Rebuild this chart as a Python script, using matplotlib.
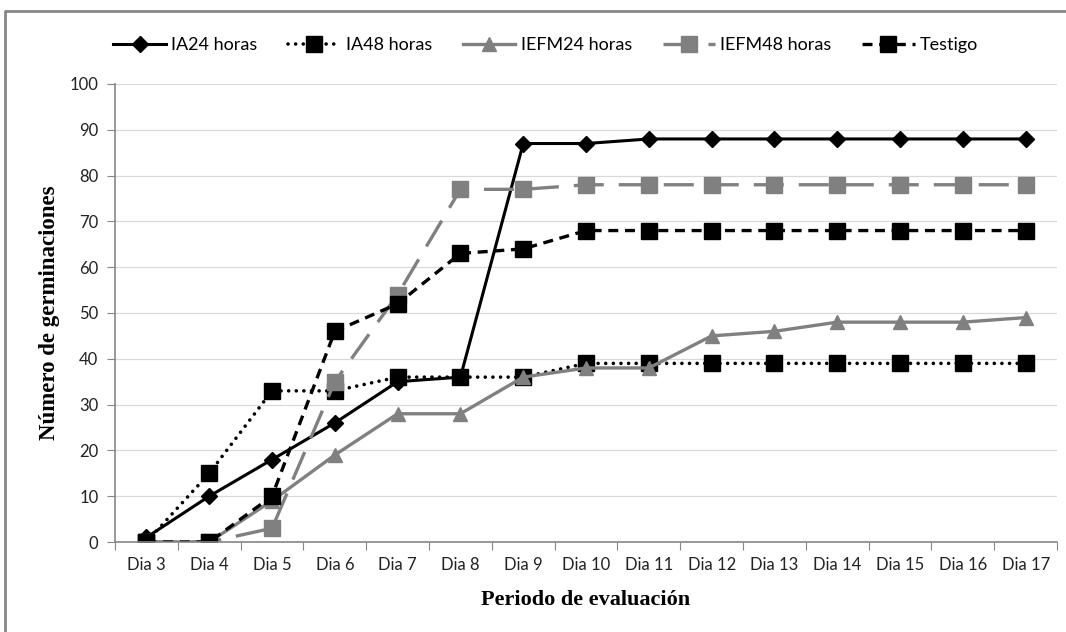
import numpy as np
import matplotlib
matplotlib.use("Agg")
import matplotlib.pyplot as plt
from matplotlib.lines import Line2D
from matplotlib.ticker import FixedLocator, NullFormatter

# data
dias = ["Dia 3", "Dia 4", "Dia 5", "Dia 6", "Dia 7", "Dia 8", "Dia 9", "Dia 10",
        "Dia 11", "Dia 12", "Dia 13", "Dia 14", "Dia 15", "Dia 16", "Dia 17"]
ia24 = [1, 10, 18, 26, 35, 36, 87, 87, 88, 88, 88, 88, 88, 88, 88]
ia48 = [0, 15, 33, 33, 36, 36, 36, 39, 39, 39, 39, 39, 39, 39, 39]
iefm24 = [0, 0, 9, 19, 28, 28, 36, 38, 38, 45, 46, 48, 48, 48, 49]
iefm48 = [0, 0, 3, 35, 54, 77, 77, 78, 78, 78, 78, 78, 78, 78, 78]
testigo = [0, 0, 10, 46, 52, 63, 64, 68, 68, 68, 68, 68, 68, 68, 68]

gray = "#808080"
axis_gray = "#868686"
tick_font = "Lato"
title_font = "Liberation Serif"

fig = plt.figure(figsize=(10.66, 6.32), dpi=100)
ax = fig.add_axes([0.1079, 0.1424, 0.8837, 0.7247])
x = np.arange(len(dias))

ax.plot(x, ia24, color="black", lw=2.2, marker="D", ms=8.5, label="IA24 horas")
ax.plot(x, ia48, color="black", lw=2.6, ls=(0, (0.01, 2.1)), dash_capstyle="round",
        marker="s", ms=11, label="IA48 horas")
ax.plot(x, iefm24, color=gray, lw=2.4, marker="^", ms=10, label="IEFM24 horas")
ax.plot(x, iefm48, color=gray, lw=2.4, ls=(0, (9, 4.5)), marker="s", ms=11,
        label="IEFM48 horas")
ax.plot(x, testigo, color="black", lw=2.4, ls=(0, (3, 2)), marker="s", ms=11,
        label="Testigo")

ax.set_xlim(-0.5, len(dias) - 0.5)
ax.set_ylim(0, 100)
ax.set_yticks(np.arange(0, 101, 10))
ax.xaxis.set_major_locator(FixedLocator(np.arange(-0.5, len(dias), 1.0)))
ax.xaxis.set_major_formatter(NullFormatter())
ax.xaxis.set_minor_locator(FixedLocator(x))
ax.set_xticklabels(dias, minor=True, fontsize=12, family=tick_font, color="#222222")
ax.tick_params(axis="x", which="major", direction="out", length=6, color=axis_gray)
ax.tick_params(axis="x", which="minor", length=0, pad=11)
ax.tick_params(axis="y", direction="out", length=6, color=axis_gray, pad=6)
for lab in ax.get_yticklabels():
    lab.set_fontsize(12)
    lab.set_family(tick_font)
    lab.set_color("#222222")

ax.grid(axis="y", color="#d9d9d9", lw=0.9)
ax.set_axisbelow(True)
for side in ["top", "right"]:
    ax.spines[side].set_visible(False)
for side in ["left", "bottom"]:
    ax.spines[side].set_color(axis_gray)
    ax.spines[side].set_linewidth(1.2)

ax.set_xlabel("Periodo de evaluación", family=title_font, fontweight="bold",
              fontsize=16, labelpad=12)
ax.set_ylabel("Número de germinaciones", family=title_font, fontweight="bold",
              fontsize=16.5, labelpad=7)

fig.legend(loc="center", bbox_to_anchor=(0.512, 0.929), ncol=5, frameon=False,
           handlelength=2.9, columnspacing=1.7, handletextpad=0.3,
           prop={"family": tick_font, "size": 13})

# outer chart border: only the left and top edges are inside the picture
bx = 5 / 1066
by = 1 - 11 / 632
fig.add_artist(Line2D([bx, bx, 1.0], [0.0, by, by], transform=fig.transFigure,
                      color=axis_gray, lw=2))

fig.savefig("out.png", dpi=100)
